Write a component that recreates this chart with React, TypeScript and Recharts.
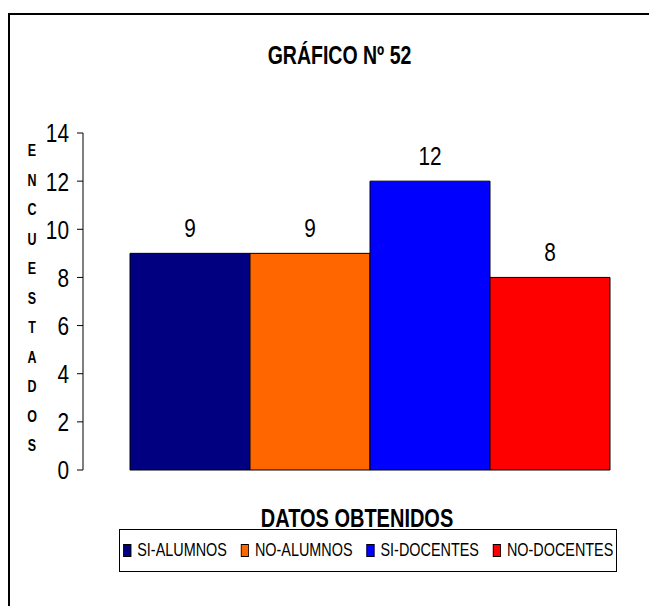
import React from "react";
import { BarChart, Bar, XAxis, YAxis, Legend, LabelList } from "recharts";

// no Arial Narrow available: Liberation Sans squeezed horizontally
const FONT = "'Liberation Sans', Arial, sans-serif";
const SQ = 0.8;

const category = "DATOS OBTENIDOS";
const seriesNames = ["SI-ALUMNOS", "NO-ALUMNOS", "SI-DOCENTES", "NO-DOCENTES"];
const seriesValues = [9, 9, 12, 8];
const seriesColors = ["#000080", "#FF6600", "#0000FF", "#FF0000"];
const yTicks = [0, 2, 4, 6, 8, 10, 12, 14];
const yTitle = "ENCUESTADOS";

const keys = seriesNames.map((_, i) => `s${i}`);
const row: Record<string, string | number> = { name: category };
keys.forEach((k, i) => (row[k] = seriesValues[i]));
const data = [row];

function NarrowText({ x, y, anchor = "middle", size, bold = false, sx = SQ, dy, children }: any) {
  return (
    <text
      transform={`translate(${x} ${y}) scale(${sx} 1)`}
      x={0}
      y={0}
      dy={dy}
      textAnchor={anchor}
      fontFamily={FONT}
      fontWeight={bold ? "bold" : "normal"}
      fontSize={size}
      fill="#000"
    >
      {children}
    </text>
  );
}

function YTick(props: any) {
  const { x, y, payload } = props;
  return (
    <NarrowText x={x} y={y} anchor="end" size={26} dy="0.36em">
      {payload.value}
    </NarrowText>
  );
}

function BarValue(props: any) {
  const { x, y, width, value } = props;
  return (
    <NarrowText x={x + width / 2} y={y - 16} size={26}>
      {value}
    </NarrowText>
  );
}

function YTitle(props: any) {
  const vb = props.viewBox || { x: 15, y: 125 };
  const x = vb.x + 9;
  const y0 = 148;
  return (
    <g>
      {yTitle.split("").map((ch, i) => (
        <NarrowText key={i} x={x} y={y0 + i * 29.5} size={16} bold sx={0.78}>
          {ch}
        </NarrowText>
      ))}
    </g>
  );
}

function XTitle() {
  return (
    <NarrowText x={349} y={519} size={25} bold>
      {category}
    </NarrowText>
  );
}

function LegendBox() {
  return (
    <div
      style={{
        boxSizing: "border-box",
        width: 498,
        height: 43,
        border: "1.5px solid #000",
        background: "#fff",
        display: "flex",
        alignItems: "center",
        justifyContent: "center",
        fontFamily: FONT,
        fontSize: 18,
        color: "#000",
      }}
    >
      <div
        style={{
          display: "flex",
          alignItems: "center",
          flexShrink: 0,
          whiteSpace: "nowrap",
          gap: 14 / SQ,
          transform: `scaleX(${SQ})`,
          transformOrigin: "center",
        }}
      >
        {seriesNames.map((n, i) => (
          <span key={n} style={{ display: "flex", alignItems: "center" }}>
            <span
              style={{
                display: "inline-block",
                boxSizing: "border-box",
                width: 8 / SQ,
                height: 13,
                background: seriesColors[i],
                border: "1px solid #000",
                marginRight: 6 / SQ,
              }}
            />
            {n}
          </span>
        ))}
      </div>
    </div>
  );
}

export default function App() {
  return (
    <div style={{ position: "relative", width: 649, height: 598, overflow: "hidden", background: "#fff" }}>
      <div
        style={{
          position: "absolute",
          left: 0,
          top: 5,
          width: 800,
          height: 800,
          borderTop: "2px solid #000",
          borderLeft: "2px solid #000",
        }}
      />
      <div
        style={{
          position: "absolute",
          left: 0,
          top: 35,
          width: 663,
          textAlign: "center",
          fontFamily: FONT,
          fontWeight: "bold",
          fontSize: 25,
          lineHeight: "24px",
          transform: "scaleX(0.78)",
          transformOrigin: "331.5px 0",
        }}
      >
        GRÁFICO Nº 52
      </div>
      <BarChart
        width={649}
        height={598}
        data={data}
        margin={{ top: 125, right: 0, bottom: 96, left: 15 }}
        barGap={0}
        barCategoryGap={47}
        style={{ position: "absolute", left: 0, top: 0 }}
      >
        <XAxis
          dataKey="name"
          tick={false}
          axisLine={false}
          tickLine={false}
          height={40}
          label={<XTitle />}
        />
        <YAxis
          width={60}
          domain={[0, 14]}
          ticks={yTicks}
          interval={0}
          axisLine={{ stroke: "#000" }}
          tickLine={{ stroke: "#000" }}
          tickSize={6}
          tickMargin={8}
          tick={<YTick />}
          label={<YTitle />}
        />
        <Legend
          layout="horizontal"
          verticalAlign="middle"
          align="center"
          wrapperStyle={{ position: "absolute", left: 111, top: 521, width: 498, height: 43 }}
          content={<LegendBox />}
        />
        {keys.map((k, i) => (
          <Bar
            key={k}
            dataKey={k}
            name={seriesNames[i]}
            fill={seriesColors[i]}
            stroke="#000"
            strokeWidth={1}
            isAnimationActive={false}
          >
            <LabelList dataKey={k} content={<BarValue />} />
          </Bar>
        ))}
      </BarChart>
    </div>
  );
}
